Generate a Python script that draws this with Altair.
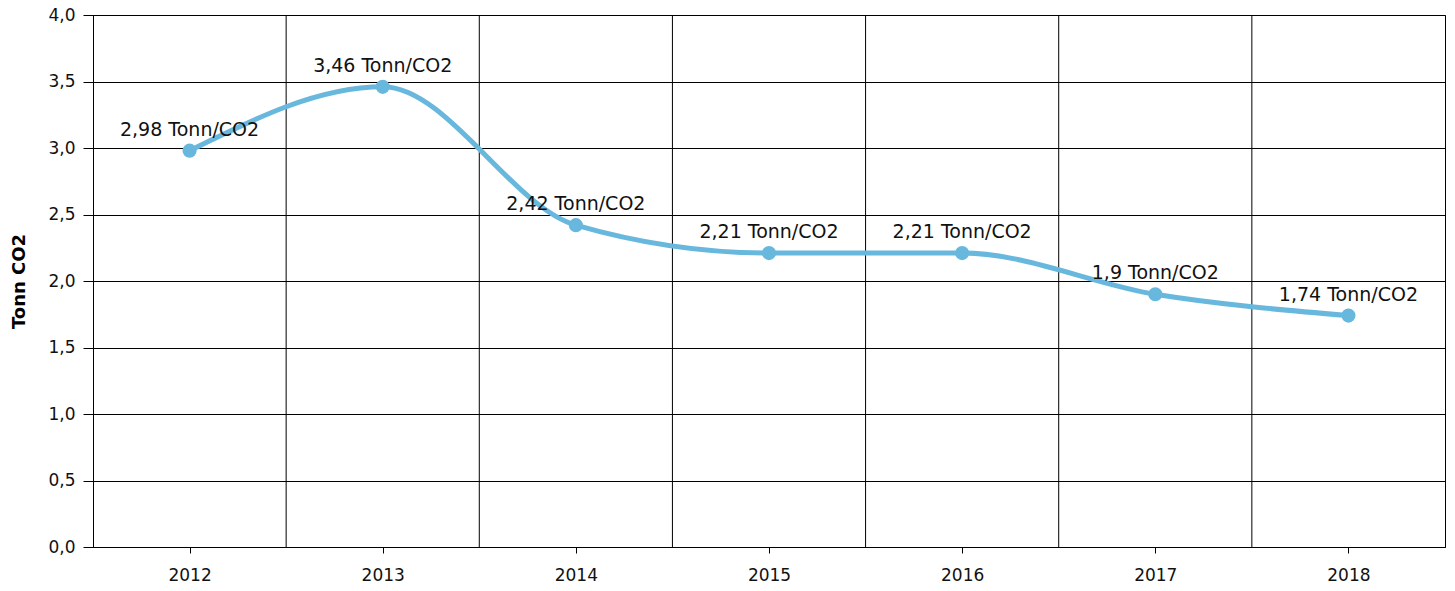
import altair as alt
import pandas as pd

years = [2012, 2013, 2014, 2015, 2016, 2017, 2018]
values = [2.98, 3.46, 2.42, 2.21, 2.21, 1.90, 1.74]
unit = "Tonn/CO2"
y_ticks = [0.0, 0.5, 1.0, 1.5, 2.0, 2.5, 3.0, 3.5, 4.0]

labels = [f"{v:g}".replace(".", ",") + " " + unit for v in values]
df = pd.DataFrame({"year": years, "value": values, "label": labels})
bounds = pd.DataFrame({"b": [y + 0.5 for y in years[:-1]]})

FONT = "DejaVu Sans"
COLOR = "#68b8de"

x_scale = alt.Scale(domain=[years[0] - 0.5, years[-1] + 0.5], nice=False, zero=False)
y_scale = alt.Scale(domain=[0, 4], nice=False)

x_enc = alt.X("year:Q", scale=x_scale, title=None,
              axis=alt.Axis(values=years, format="d", grid=False, tickSize=6,
                            labelPadding=14, labelFontSize=17, domain=True,
                            domainColor="black", tickColor="black", labelColor="#111",
                            labelFont=FONT))
y_enc = alt.Y("value:Q", scale=y_scale, title="Tonn CO2",
              axis=alt.Axis(values=y_ticks, labelExpr="replace(format(datum.value, '.1f'), '.', ',')",
                            grid=True, gridColor="black", gridOpacity=1, gridWidth=1,
                            tickSize=10, tickColor="black", domainColor="black",
                            labelPadding=8, labelFontSize=17, labelFont=FONT, labelColor="#111",
                            titleFont=FONT, titleFontSize=18, titleFontWeight="bold",
                            titleColor="black", titlePadding=19))

vrules = alt.Chart(bounds).mark_rule(color="black", strokeWidth=1).encode(
    x=alt.X("b:Q", scale=x_scale),
    y=alt.value(0),
    y2=alt.value(532),
)

base = alt.Chart(df)
line = base.mark_line(interpolate="monotone", color=COLOR, strokeWidth=5).encode(x=x_enc, y=y_enc)
pts = base.mark_circle(color=COLOR, size=200, opacity=1).encode(x="year:Q", y="value:Q")
txt = base.mark_text(dy=-21, fontSize=19, font=FONT, color="#111").encode(
    x="year:Q", y="value:Q", text="label:N")

chart = alt.layer(vrules, line, pts, txt).properties(
    width=1352, height=532,
    autosize=alt.AutoSizeParams(type="none"),
    padding={"left": 85, "top": 7, "right": 2, "bottom": 44},
).configure_view(stroke="black", strokeWidth=1)

chart.save("out.html", embed_options={"renderer": "svg", "actions": False})
